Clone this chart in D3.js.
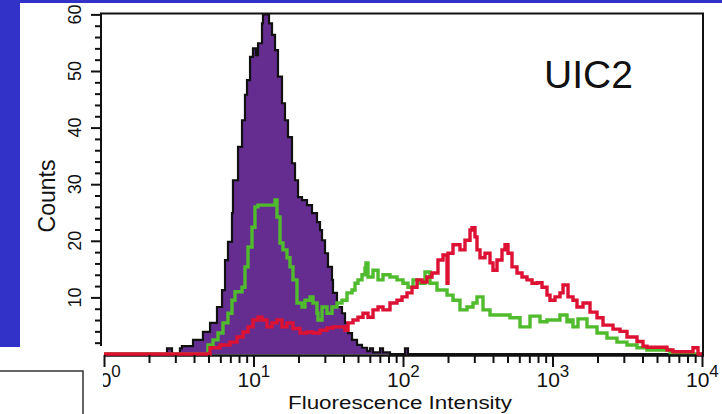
<!DOCTYPE html>
<html><head><meta charset="utf-8">
<script src="https://cdn.jsdelivr.net/npm/d3@7"></script>
<style>html,body{margin:0;padding:0;background:#fff;overflow:hidden}text{font-family:"Liberation Sans",Arial,Helvetica,sans-serif}</style>
</head><body>
<svg id="c" width="722" height="414"></svg>
<script>
// ---- data (fluorescence intensity, counts) ----
const yTickValues = [10, 20, 30, 40, 50, 60];
const xTickDecades = [1, 10, 100, 1000, 10000];
const xTickExponents = ["0", "1", "2", "3", "4"];
const panelLabel = "UIC2";
const xTitle = "Fluorescence Intensity";
const yTitle = "Counts";

const controlSeries = [
  [1,0],[2.64,1],[2.85,0],[3.22,1],[3.32,1.4],[3.94,2.5],[4.59,3.9],[5.12,5.5],[5.70,8.3],
  [6.16,11.3],[6.45,16.6],[6.75,19.8],[7.18,24.9],[7.29,30.7],[7.88,36.6],[8.38,41.3],
  [8.77,45.8],[9.05,48.4],[9.48,52.5],[9.92,54.0],[10.39,52.8],[10.72,54.9],[11.40,58.4],
  [11.57,60.4],[12.70,58.4],[13.30,56.4],[13.93,53.7],[14.58,49.0],[15.51,44.3],[16.24,41.3],
  [17.01,38.3],[18.09,33.7],[18.95,30.7],[19.85,27.7],[21.11,27.2],[22.80,26.3],[24.62,24.9],
  [26.59,23.3],[27.85,21.9],[28.73,20.1],[30.08,17.8],[31.50,15.4],[33.50,13.1],[34.02,10.8],
  [36.18,8.3],[39.08,7.2],[40.93,5.5],[42.87,3.7],[45.60,2.5],[49.25,1.6],[53.18,1.1],
  [57.44,0.5],[60.16,1],[63.0,0.3],[70.21,1],[73.49,0.3],[81.85,0],[103.1,1],[108,0],[10000,0]
];
const greenSeries = [
  [1,0],[4.74,0],[4.96,1.6],[5.36,2.5],[5.79,3.7],[6.25,5.5],[6.75,7.2],[7.18,9.5],[7.52,11.0],
  [8.38,11.8],[8.77,15.4],[9.19,18.9],[9.77,22.4],[10.23,26.0],[10.72,26.3],[13.93,27.2],
  [14.36,24.2],[15.04,19.6],[15.75,18.4],[16.75,17.0],[17.54,15.4],[18.37,13.1],[19.54,9.0],
  [21.11,8.3],[22.11,9.5],[23.88,10.1],[25.00,9.0],[26.59,7.2],[27.00,6.0],[28.73,8.3],
  [31.02,7.2],[33.50,8.3],[36.18,9.0],[39.08,9.5],[42.21,10.8],[45.60,11.3],[47.76,12.5],
  [50.00,13.1],[53.18,14.0],[55.70,15.2],[56.56,16.1],[58.33,13.6],[63.01,14.8],[68.07,13.1],
  [73.49,14.0],[81.85,13.6],[91.19,13.1],[100,12.5],[108,11.8],[116.7,13.1],[126,12.5],
  [140.4,14.5],[151.6,12.5],[168.8,11.3],[197,10.4],[216,9.5],[240.5,7.8],[268,8.3],[294,9.0],
  [312.6,10.1],[342.9,7.8],[381.9,6.9],[519.8,6.4],[606.3,4.8],[707.2,6.7],[825.1,5.7],
  [918.8,6.0],[1122,6.9],[1250,5.7],[1309,6.0],[1371,4.8],[1481,6.2],[1701,4.8],[1985,3.7],
  [2314,2.8],[2700,2.1],[3150,1.6],[3675,1.1],[4286,0.7],[6110,0],[10000,0]
];
const redSeries = [
  [1,0],[5.12,1.1],[5.97,1.6],[6.96,2.1],[7.76,3.0],[8.51,3.9],[9.19,4.8],[9.92,6.0],[10.72,6.5],
  [11.40,6.0],[12.31,4.8],[13.30,5.5],[14.36,6.0],[15.51,4.8],[16.75,5.5],[18.37,4.5],[20.47,3.7],
  [22.80,3.9],[25.00,3.7],[27.85,4.2],[31.02,4.6],[34.02,4.8],[40.93,4.2],[42.87,5.5],[46.31,6.0],
  [50.00,6.5],[54.01,7.2],[58.33,6.5],[63.01,7.8],[68.07,8.3],[73.49,7.8],[81.85,9.0],[91.19,9.5],
  [98.47,10.1],[106.4,10.8],[114.9,11.8],[124.1,13.1],[134,12.7],[144.7,13.6],[156.3,14.3],
  [171.4,16.6],[185.2,17.5],[197,12.5],[200,17.8],[216,19.3],[240.5,18.4],[259.8,20.1],
  [280.7,21.9],[289.4,22.3],[303.1,20.7],[312.6,18.4],[327.4,17.0],[353.6,17.8],[381.9,16.1],
  [399.9,14.8],[425.4,16.6],[459.4,18.4],[481.1,19.3],[504,17.8],[535.9,15.4],[578.9,14.3],
  [625.3,13.6],[675.2,13.1],[729.4,12.5],[787.7,12.6],[850.9,11.8],[918.8,10.4],[962.3,9.5],
  [1039,10.1],[1122,10.8],[1176,12.2],[1270,10.1],[1371,9.5],[1458,8.3],[1600,9.0],[1782,7.4],
  [1985,6.4],[2177,5.1],[2539,4.4],[2828,4.0],[3150,3.0],[3675,2.2],[4031,1.4],[4286,1.2],
  [5833,0.7],[6398,0.4],[8707,1.1],[9402,0],[10000,0]
];

// ---- drawing ----
const svg = d3.select("#c");
svg.append("rect").attr("width", 722).attr("height", 414).attr("fill", "#fff");
// blue slide background
svg.append("rect").attr("x", 0).attr("y", 0).attr("width", 722).attr("height", 3).attr("fill", "#3232c8");
svg.append("rect").attr("x", 0).attr("y", 0).attr("width", 20).attr("height", 347).attr("fill", "#3232c8");

const x = d3.scaleLog().domain([1, 1e4]).range([104, 702]);
const y = d3.scaleLinear().domain([0, 60]).range([354, 14.4]);

const area = d3.area().x(d => x(d[0])).y0(y(0)).y1(d => y(Math.min(d[1], 60))).curve(d3.curveStepAfter);
const line = d3.line().x(d => x(d[0])).y(d => y(Math.min(d[1], 60))).curve(d3.curveStepAfter);

// control (filled purple)
svg.append("path").datum(controlSeries).attr("d", area).attr("fill", "#662d91");
svg.append("path").datum(controlSeries).attr("d", line).attr("fill", "none")
  .attr("stroke", "#111").attr("stroke-width", 2.2).attr("stroke-linejoin", "miter");
// green
svg.append("path").datum(greenSeries).attr("d", line).attr("fill", "none")
  .attr("stroke", "#4fbb2d").attr("stroke-width", 3.4);

// frame
const frame = svg.append("g").attr("stroke", "#111").attr("stroke-width", 2).attr("fill", "none");
frame.append("line").attr("x1", 100).attr("x2", 704).attr("y1", y(60) - 1).attr("y2", y(60) - 1);
frame.append("line").attr("x1", 703).attr("x2", 703).attr("y1", y(60) - 1).attr("y2", 356);
frame.append("line").attr("x1", 101).attr("x2", 101).attr("y1", y(60) - 1).attr("y2", 346);
frame.append("line").attr("x1", 104).attr("x2", 704).attr("y1", 355.5).attr("y2", 355.5).attr("stroke-width", 2.5);

// red (on top)
svg.append("path").datum(redSeries).attr("d", line).attr("fill", "none")
  .attr("stroke", "#dd1133").attr("stroke-width", 3.4);

// y axis ticks
const yMinor = d3.range(2, 60, 2).filter(v => v % 10 !== 0);
const yAxisMajor = d3.axisLeft(y).tickValues(yTickValues).tickSize(10).tickFormat("");
const yAxisMinor = d3.axisLeft(y).tickValues(yMinor).tickSize(6).tickFormat("");
[yAxisMajor, yAxisMinor].forEach(ax => {
  const g = svg.append("g").attr("transform", "translate(101,0)").call(ax);
  g.select(".domain").remove();
  g.selectAll("line").attr("stroke", "#111").attr("stroke-width", 2);
});
yTickValues.forEach(v => {
  svg.append("text").attr("transform", `translate(81,${y(v)}) rotate(-90)`)
    .attr("text-anchor", "middle").attr("font-size", 18).attr("fill", "#111").text(v);
});
svg.append("text").attr("transform", "translate(55,196) rotate(-90)")
  .attr("text-anchor", "middle").attr("font-size", 23).attr("fill", "#111").text(yTitle);

// x axis ticks
const xMinor = [];
xTickDecades.slice(0, 4).forEach(d => [2,3,4,5,6,7,8,9].forEach(k => xMinor.push(d * k)));
const xAxisMajor = d3.axisBottom(x).tickValues(xTickDecades).tickSize(12).tickFormat("");
const xAxisMinor = d3.axisBottom(x).tickValues(xMinor).tickSize(8).tickFormat("");
[xAxisMajor, xAxisMinor].forEach(ax => {
  const g = svg.append("g").attr("transform", "translate(0,355)").call(ax);
  g.select(".domain").remove();
  g.selectAll("line").attr("stroke", "#111").attr("stroke-width", 2);
});
xTickDecades.forEach((v, i) => {
  const t = svg.append("text").attr("x", x(v) - 16).attr("y", 387)
    .attr("font-size", 21).attr("fill", "#111");
  t.append("tspan").text("10");
  t.append("tspan").attr("dy", -10).attr("font-size", 17).text(xTickExponents[i]);
});
svg.append("text").attr("x", 288).attr("y", 409).attr("font-size", 18)
  .attr("textLength", 224).attr("lengthAdjust", "spacingAndGlyphs").attr("fill", "#111").text(xTitle);

// panel label
svg.append("text").attr("x", 544).attr("y", 88).attr("font-size", 39).attr("fill", "#111").text(panelLabel);

// white overlay with box at lower left (slide artefact)
svg.append("rect").attr("x", 0).attr("y", 347).attr("width", 103).attr("height", 67).attr("fill", "#fff");
svg.append("rect").attr("x", -5).attr("y", 371).attr("width", 88).attr("height", 60)
  .attr("fill", "none").attr("stroke", "#333").attr("stroke-width", 1.5);
</script>
</body></html>
